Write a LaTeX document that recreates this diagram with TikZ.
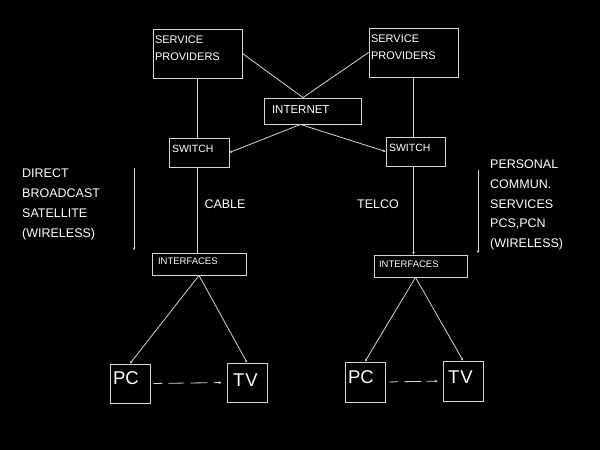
\documentclass[tikz,border=0pt]{standalone}
\usepackage{fontspec}
\setmainfont{Liberation Sans}
\usepackage{xcolor}
\usepackage{tikz}
\usetikzlibrary{
  arrows.meta,
  positioning,
  calc
}
\definecolor{linegray}{RGB}{214,214,214}

\begin{document}
\begin{tikzpicture}[x=1pt, y=-1pt,
  box/.style={draw=linegray, line width=0.9pt, text=white, align=left, inner ysep=1pt},
  conn/.style={draw=linegray, line width=0.8pt},
  tip/.style={-{Stealth[length=2.6pt,width=2.6pt]}},
  dotline/.style={dash pattern=on 9pt off 6pt on 16pt off 6pt on 17pt off 6pt on 9pt off 20pt},
  lbl/.style={text=white, align=left, inner sep=0pt}]
\useasboundingbox[fill=black] (0,0) rectangle (600,450);

% top boxes
\node[box, font=\fontsize{11}{17}\selectfont, minimum width=89, minimum height=49, text width=85, inner xsep=2, text depth=27] (spl) at (197.5,53.5) {SERVICE\\PROVIDERS};
\node[box, font=\fontsize{11}{17}\selectfont, minimum width=89, minimum height=49, text width=85, inner xsep=2, text depth=27] (spr) at (413.5,52.5) {SERVICE\\PROVIDERS};
\node[box, font=\fontsize{11.5}{14}\selectfont, minimum width=97, minimum height=26, text width=81, inner xsep=8, text depth=3] (inet) at (312.5,111) {INTERNET};

% switches
\node[box, font=\fontsize{10.5}{13}\selectfont, minimum width=60, minimum height=29, text width=54, inner xsep=3, text depth=8] (swl) at (199,152.5) {SWITCH};
\node[box, font=\fontsize{10.5}{13}\selectfont, minimum width=59, minimum height=29, text width=53, inner xsep=3, text depth=8] (swr) at (415.5,151.5) {SWITCH};

% interfaces
\node[box, font=\fontsize{9.5}{12}\selectfont, minimum width=94, minimum height=22, text width=82, inner xsep=6, text depth=6] (ifl) at (199,264) {INTERFACES};
\node[box, font=\fontsize{9.5}{12}\selectfont, minimum width=93, minimum height=22, text width=83, inner xsep=5, text depth=4] (ifr) at (420.5,266) {INTERFACES};

% end devices
\node[box, font=\fontsize{18.5}{20}\selectfont, minimum width=40, minimum height=39, text width=34, inner xsep=3, text depth=10] (pcl) at (130,383.5) {PC};
\node[box, font=\fontsize{18.5}{20}\selectfont, minimum width=40, minimum height=39, text width=28, inner xsep=6, text depth=5] (tvl) at (247,382.5) {T\kern1pt V};
\node[box, font=\fontsize{18.5}{20}\selectfont, minimum width=40, minimum height=40, text width=34, inner xsep=3, text depth=10] (pcr) at (365,382) {PC};
\node[box, font=\fontsize{18.5}{20}\selectfont, minimum width=40, minimum height=40, text width=30, inner xsep=5, text depth=8] (tvr) at (463,381) {T\kern1pt V};

% side labels
\node[lbl, anchor=north west, font=\fontsize{12.5}{20}\selectfont] (dbs) at (22,168.5) {DIRECT\\BROADCAST\\SATELLITE\\(WIRELESS)};
\node[lbl, anchor=north west, font=\fontsize{12.5}{19.8}\selectfont] (pcs) at (490,159.5) {PERSONAL\\COMMUN.\\SERVICES\\PCS,PCN\\(WIRELESS)};
\node[lbl, font=\fontsize{12.5}{14}\selectfont] (cable) at (225,204) {CABLE};
\node[lbl, font=\fontsize{12.5}{14}\selectfont] (telco) at (378,204) {TELCO};

% internet links
\coordinate (inet top) at ([xshift=-9.5]inet.north);
\coordinate (inet bot) at ([xshift=-12]inet.south);
\draw[conn] (spl.east) -- (inet top);
\draw[conn] (spr.west) -- (inet top);
\draw[conn, tip] (inet bot) -- (swl.east);
\draw[conn, tip] (inet bot) -- (swr.west);

% vertical trunks
\draw[conn] (spl.south) -- (spl.south |- swl.north);
\draw[conn] (spl.south |- swl.south) -- (spl.south |- ifl.north);
\draw[conn] (spr.south) -- (spr.south |- swr.north);
\draw[conn, tip] (spr.south |- swr.south) -- (spr.south |- ifr.north);

% wireless arrows
\coordinate (dbs top) at (134,168);
\coordinate (dbs end) at (134,250);
\coordinate (pcs top) at (478,170);
\coordinate (pcs end) at (478,253);
\draw[conn, tip] (dbs top) -- (dbs end);
\draw[conn, tip] (pcs top) -- (pcs end);

% fan out to devices
\coordinate (ifr bot) at ([xshift=-5]ifr.south);
\draw[conn, tip] (ifl.south) -- (pcl.north);
\draw[conn, tip] (ifl.south) -- (tvl.north);
\draw[conn, tip] (ifr bot) -- (pcr.north);
\draw[conn, tip] (ifr bot) -- (tvr.north);

% device links
\draw[conn, tip, dotline, shorten <=3pt, shorten >=5pt] (pcl.east) -- (tvl.west);
\draw[conn, tip, dash pattern=on 9pt off 6pt on 17pt off 5pt on 12pt off 20pt, shorten <=4pt, shorten >=5pt] (pcr.east) -- (tvr.west);
\end{tikzpicture}
\end{document}
